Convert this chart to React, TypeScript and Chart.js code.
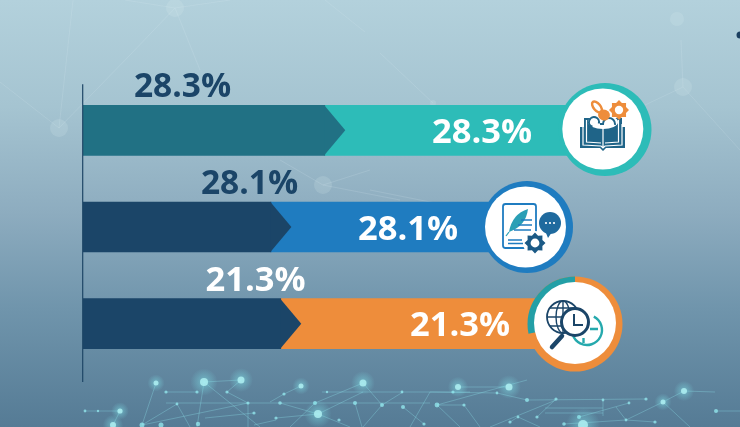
import React, { useEffect, useRef } from "react";
import { Chart, registerables } from "chart.js";

Chart.register(...registerables);

// ---- data
const categories = ["Item A", "Item B", "Item C"];
const shares = [28.3, 28.1, 21.3];
const leadLengths = [36.8, 28.6, 30.1];
const tailLengths = [42.6, 39.0, 44.7];

// ---- styles and layout, kept apart from the data
const NAVY = "#1b4568";
const leadColors = ["#217184", NAVY, NAVY];
const tailColors = ["#2dbcb8", "#1f7cc0", "#ee8d3b"];
const outsideColors = [NAVY, NAVY, "#ffffff"];
const outsideCentres = [182.5, 249.5, 255.5];
const outsideFonts = ["bold 33.5px 'Open Sans'", "bold 33.5px 'Open Sans'", "bold 34.5px 'Open Sans'"];
const insideCentres = [482, 408, 460];
const INSIDE_FONT = "bold 34.5px 'Open Sans'";

type Node = [number, number, number];
const topNodes: Node[] = [
  [175, 8, 9], [59, 128, 9], [323, 185, 9], [677, 19, 7], [683, 87, 9], [433, 103, 3],
];
const topLines = [
  [0, 82, 59, 128], [59, 128, 73, 0], [59, 128, 130, 55], [175, 8, 125, 0], [175, 8, 230, 0],
  [175, 8, 200, 70], [130, 55, 175, 8], [683, 87, 681, 40], [683, 87, 645, 105], [683, 87, 740, 150],
  [380, 53, 433, 103], [323, 185, 370, 170], [323, 185, 280, 160], [323, 185, 400, 200],
  [370, 190, 440, 204], [325, 0, 365, 32],
];
const glowNodes: Node[] = [
  [204, 382, 4], [241, 380, 3.5], [363, 383, 3.5], [318, 414, 4], [458, 387, 3], [509, 387, 3.5],
  [684, 391, 3], [583, 425, 5], [156, 383, 2.5], [301, 386, 2.5], [663, 402, 2.5], [120, 411, 2.6], [113, 425, 3],
];
const smallNodes: Node[] = [
  [315, 403, 2], [355, 403, 2], [382, 405, 2], [248, 403, 1.6], [280, 403, 1.8], [227, 392, 1.6],
  [166, 392, 1.6], [197, 392, 1.6], [284, 394, 1.6], [177, 404, 1.4], [142, 425, 2.5], [161, 425, 2.5],
  [198, 424, 2.2], [254, 413, 1.6], [276, 418, 1.6], [339, 420, 1.6], [403, 407, 2], [424, 424, 1.6],
  [402, 392, 1.4], [327, 392, 1.2], [453, 392, 1.6], [497, 393, 1.4], [437, 405, 2.4], [464, 405, 1.6],
  [527, 400, 2], [556, 399, 1.6], [603, 400, 1.4], [646, 399, 1.6], [716, 411, 2], [629, 403, 1.4],
  [579, 417, 2], [564, 424, 1.8], [537, 417, 1.6], [518, 417, 1.4], [510, 422, 1.6], [626, 420, 1.4],
  [655, 422, 1.6], [85, 411, 1.4], [98, 411, 1.2],
];
const netLines = [
  [85, 411, 120, 411], [113, 425, 120, 411],
  [204, 382, 241, 380], [204, 382, 197, 427], [204, 382, 260, 427], [241, 380, 227, 392], [227, 392, 248, 403],
  [156, 383, 142, 425], [166, 392, 197, 392], [166, 403, 248, 403], [248, 403, 248, 427], [248, 403, 430, 403],
  [177, 404, 142, 425], [177, 404, 190, 427], [142, 425, 248, 403], [301, 386, 284, 394], [284, 394, 270, 402],
  [322, 392, 470, 392], [363, 383, 315, 403], [363, 383, 382, 405], [315, 403, 290, 427], [318, 414, 363, 392],
  [318, 414, 350, 427], [382, 405, 363, 427], [355, 403, 362, 427], [403, 392, 382, 405], [403, 407, 424, 424],
  [205, 418, 254, 413], [276, 418, 318, 414], [254, 425, 276, 420], [280, 403, 318, 414], [458, 387, 509, 387],
  [430, 392, 497, 393], [437, 405, 527, 380], [437, 405, 464, 405], [437, 405, 460, 427], [464, 405, 480, 427],
  [497, 393, 527, 400], [527, 400, 646, 399], [556, 399, 537, 417], [490, 427, 556, 400], [603, 400, 603, 416],
  [545, 408, 603, 408], [545, 413, 603, 413], [579, 417, 629, 403], [616, 407, 626, 420], [626, 420, 655, 422],
  [684, 391, 663, 402], [663, 402, 626, 420], [663, 402, 690, 427], [684, 391, 715, 392], [716, 411, 740, 411],
  [518, 417, 540, 427], [510, 422, 518, 417], [564, 424, 626, 420], [430, 392, 410, 427],
];

function gear(c: CanvasRenderingContext2D, x: number, y: number, r: number, color: string, hole: string) {
  c.fillStyle = color;
  c.beginPath();
  for (let i = 0; i < 16; i++) {
    const a = (i * Math.PI) / 8;
    const rr = i % 2 === 0 ? r : r * 0.76;
    c.lineTo(x + Math.cos(a) * rr, y + Math.sin(a) * rr);
  }
  c.closePath();
  c.fill();
  c.fillStyle = hole;
  c.beginPath();
  c.arc(x, y, r * 0.42, 0, Math.PI * 2);
  c.fill();
}

function iconBook(c: CanvasRenderingContext2D) {
  const blue = "#1f6488";
  c.fillStyle = blue;
  c.fillRect(584, 118, 17, 27);
  c.fillRect(605, 118, 17, 27);
  c.beginPath();
  c.moveTo(580, 127); c.lineTo(580, 148); c.lineTo(600, 148); c.lineTo(603, 151);
  c.lineTo(606, 148); c.lineTo(625, 148); c.lineTo(625, 127); c.closePath();
  c.fill();
  c.strokeStyle = "#ffffff";
  c.lineWidth = 1.2;
  c.beginPath();
  c.moveTo(583, 124); c.lineTo(583, 145); c.lineTo(601, 146); c.lineTo(603, 148);
  c.lineTo(605, 146); c.lineTo(622, 145); c.lineTo(622, 124);
  c.moveTo(586.5, 120); c.lineTo(586.5, 142); c.lineTo(601, 143);
  c.moveTo(618.5, 120); c.lineTo(618.5, 142); c.lineTo(605, 143);
  c.moveTo(603, 128); c.lineTo(603, 147);
  c.stroke();
  c.fillStyle = "#ffffff";
  c.beginPath();
  c.ellipse(603, 122, 15, 7, 0, 0, Math.PI * 2);
  c.fill();
  c.strokeStyle = blue;
  c.lineWidth = 2;
  c.beginPath();
  c.arc(594, 122, 5, Math.PI * 0.6, Math.PI * 2.1);
  c.moveTo(600, 124);
  c.arc(609, 124, 6, Math.PI, Math.PI * 0.05, false);
  c.stroke();
  c.fillStyle = "#ee8d3b";
  c.beginPath();
  c.ellipse(604, 115, 6, 5.5, 0.4, 0, Math.PI * 2);
  c.fill();
  c.strokeStyle = "#ee8d3b";
  c.lineWidth = 2.5;
  c.beginPath();
  c.ellipse(597, 107, 3.4, 6.5, -0.7, 0, Math.PI * 2);
  c.stroke();
  gear(c, 619, 110, 10, "#ee8d3b", "#ffffff");
}

function iconDoc(c: CanvasRenderingContext2D) {
  const blue = "#1f7cc0";
  c.strokeStyle = blue;
  c.lineWidth = 1.8;
  c.beginPath();
  c.roundRect(503, 204, 33, 44, 2.5);
  c.stroke();
  c.fillStyle = "#2a9fb5";
  c.beginPath();
  c.moveTo(528, 209);
  c.quadraticCurveTo(512, 214, 509, 232);
  c.quadraticCurveTo(526, 226, 528, 209);
  c.fill();
  c.strokeStyle = "#2a9fb5";
  c.lineWidth = 1.2;
  c.beginPath();
  c.moveTo(509, 232); c.lineTo(506, 236);
  c.stroke();
  c.strokeStyle = blue;
  c.lineWidth = 1.5;
  c.beginPath();
  c.moveTo(521, 220); c.lineTo(532, 220);
  c.moveTo(518, 225); c.lineTo(532, 225);
  c.moveTo(514, 230); c.lineTo(531, 230);
  c.moveTo(508, 240); c.lineTo(522, 240);
  c.moveTo(508, 243.5); c.lineTo(523, 243.5);
  c.stroke();
  c.fillStyle = "#1f6a9e";
  c.beginPath();
  c.arc(550, 223, 11, 0, Math.PI * 2);
  c.fill();
  c.beginPath();
  c.moveTo(544, 231); c.lineTo(546, 233); c.lineTo(548, 238); c.lineTo(552, 232); c.closePath();
  c.fill();
  c.fillStyle = "#ffffff";
  for (const dx of [-4, 0, 4]) {
    c.beginPath();
    c.arc(550 + dx, 223, 1.1, 0, Math.PI * 2);
    c.fill();
  }
  c.fillStyle = "#ffffff";
  c.beginPath();
  c.arc(535, 243, 12, 0, Math.PI * 2);
  c.fill();
  gear(c, 535, 243, 10.5, "#1b5a86", "#ffffff");
}

function iconClock(c: CanvasRenderingContext2D) {
  const teal = "#25a9ad";
  c.strokeStyle = teal;
  c.lineWidth = 2.4;
  c.beginPath();
  c.arc(587, 330, 15, -Math.PI * 0.35, Math.PI * 0.9);
  c.stroke();
  c.beginPath();
  c.moveTo(590, 329); c.lineTo(598, 329);
  c.moveTo(583.5, 338); c.lineTo(583.5, 343);
  c.stroke();
  c.strokeStyle = NAVY;
  c.lineWidth = 1.8;
  c.beginPath();
  c.arc(563, 317, 16, 0, Math.PI * 2);
  c.stroke();
  c.lineWidth = 1.4;
  c.beginPath();
  c.ellipse(563, 317, 7, 16, 0, 0, Math.PI * 2);
  c.moveTo(563, 301); c.lineTo(563, 333);
  c.moveTo(547, 317); c.lineTo(579, 317);
  c.moveTo(550, 308); c.lineTo(576, 308);
  c.moveTo(550, 326); c.lineTo(576, 326);
  c.stroke();
  c.lineCap = "round";
  c.lineWidth = 4.5;
  c.beginPath();
  c.moveTo(552, 347); c.lineTo(562, 336);
  c.stroke();
  c.lineCap = "butt";
  c.fillStyle = "#ffffff";
  c.beginPath();
  c.arc(575, 322, 13.5, 0, Math.PI * 2);
  c.fill();
  c.lineWidth = 3;
  c.stroke();
  c.lineWidth = 2;
  c.beginPath();
  c.moveTo(574, 314); c.lineTo(574, 325); c.lineTo(583, 325);
  c.stroke();
}

const badges = [
  { x: 605, y: 129.5, r: 46.5, wx: 602.8, wy: 129, wr: 40.5, icon: iconBook },
  { x: 527, y: 227, r: 46, wx: 525.5, wy: 227, wr: 40.5, icon: iconDoc },
  { x: 575, y: 324, r: 47.5, wx: 575, wy: 323, wr: 41, icon: iconClock },
];

const artwork = {
  id: "artwork",
  beforeDraw(chart: any) {
    const c: CanvasRenderingContext2D = chart.ctx;
    const { width, height } = chart;
    c.save();
    const g = c.createLinearGradient(0, 0, 0, height);
    g.addColorStop(0, "#b3d1dc");
    g.addColorStop(0.25, "#a5c4d1");
    g.addColorStop(0.5, "#8dacbf");
    g.addColorStop(0.72, "#7095ac");
    g.addColorStop(1, "#557b95");
    c.fillStyle = g;
    c.fillRect(0, 0, width, height);

    c.strokeStyle = "rgba(225,240,245,0.15)";
    c.lineWidth = 1;
    c.beginPath();
    for (const [a, b, d, e] of topLines) {
      c.moveTo(a, b);
      c.lineTo(d, e);
    }
    c.stroke();
    c.fillStyle = "rgba(225,240,245,0.16)";
    for (const [x, y, r] of topNodes) {
      c.beginPath();
      c.arc(x, y, r, 0, Math.PI * 2);
      c.fill();
    }

    c.strokeStyle = "rgba(140,225,235,0.42)";
    c.lineWidth = 0.8;
    c.beginPath();
    for (const [a, b, d, e] of netLines) {
      c.moveTo(a, b);
      c.lineTo(d, e);
    }
    c.stroke();
    c.fillStyle = "rgba(150,235,240,0.75)";
    for (const [x, y, r] of smallNodes) {
      c.beginPath();
      c.arc(x, y, r, 0, Math.PI * 2);
      c.fill();
    }
    for (const [x, y, r] of glowNodes) {
      const halo = c.createRadialGradient(x, y, 0, x, y, r * 3.4);
      halo.addColorStop(0, "rgba(130,235,240,0.5)");
      halo.addColorStop(1, "rgba(130,235,240,0)");
      c.fillStyle = halo;
      c.beginPath();
      c.arc(x, y, r * 3.4, 0, Math.PI * 2);
      c.fill();
      c.fillStyle = "rgba(175,240,242,0.85)";
      c.beginPath();
      c.arc(x, y, r, 0, Math.PI * 2);
      c.fill();
    }
    c.fillStyle = "#1b3f60";
    c.beginPath();
    c.arc(740, 35, 3.5, 0, Math.PI * 2);
    c.fill();
    c.restore();
  },
  afterDatasetsDraw(chart: any) {
    const c: CanvasRenderingContext2D = chart.ctx;
    const { left, top, bottom } = chart.chartArea;
    const lead = chart.getDatasetMeta(0).data;
    c.save();
    c.strokeStyle = "#1f4667";
    c.lineWidth = 1.2;
    c.beginPath();
    c.moveTo(left - 0.3, top + 2.2);
    c.lineTo(left - 0.3, bottom + 10);
    c.stroke();

    lead.forEach((bar: any, i: number) => {
      const half = bar.height / 2;
      c.fillStyle = leadColors[i];
      c.beginPath();
      c.moveTo(bar.x - 0.5, bar.y - half);
      c.lineTo(bar.x + 20.5, bar.y);
      c.lineTo(bar.x - 0.5, bar.y + half);
      c.closePath();
      c.fill();

      const b = badges[i];
      c.fillStyle = tailColors[i];
      c.beginPath();
      c.arc(b.x, b.y, b.r, 0, Math.PI * 2);
      c.fill();
      if (i === 2) {
        c.fillStyle = "#239fa6";
        c.beginPath();
        c.moveTo(b.x, b.y);
        c.arc(b.x, b.y, b.r, -Math.PI / 2, -Math.PI / 2 - (shares[0] / 100) * Math.PI * 2, true);
        c.closePath();
        c.fill();
      }
      c.fillStyle = "#ffffff";
      c.beginPath();
      c.arc(b.wx, b.wy, b.wr, 0, Math.PI * 2);
      c.fill();
      b.icon(c);

      const label = `${shares[i].toFixed(1)}%`;
      c.textAlign = "center";
      c.textBaseline = "alphabetic";
      c.font = outsideFonts[i];
      c.fillStyle = outsideColors[i];
      c.fillText(label, outsideCentres[i], bar.y - half - 8);
      c.font = INSIDE_FONT;
      c.fillStyle = "#ffffff";
      c.fillText(label, insideCentres[i], bar.y + 12.5);
    });
    c.restore();
  },
};

export default function App() {
  const ref = useRef<HTMLCanvasElement>(null);
  useEffect(() => {
    document.body.style.margin = "0";
    const chart = new Chart(ref.current!, {
      type: "bar",
      data: {
        labels: categories,
        datasets: [
          { data: leadLengths, backgroundColor: leadColors, borderWidth: 0, barThickness: 50 },
          { data: tailLengths, backgroundColor: tailColors, borderWidth: 0, barThickness: 50 },
        ],
      },
      options: {
        indexAxis: "y",
        animation: false,
        responsive: false,
        layout: { padding: { left: 83, top: 82, right: 0, bottom: 55 } },
        scales: {
          x: { stacked: true, min: 0, max: 100, display: false },
          y: { stacked: true, display: false },
        },
        plugins: { legend: { display: false }, tooltip: { enabled: false } },
      },
      plugins: [artwork],
    } as any);
    return () => chart.destroy();
  }, []);
  return <canvas ref={ref} width={740} height={427} style={{ display: "block" }} />;
}
